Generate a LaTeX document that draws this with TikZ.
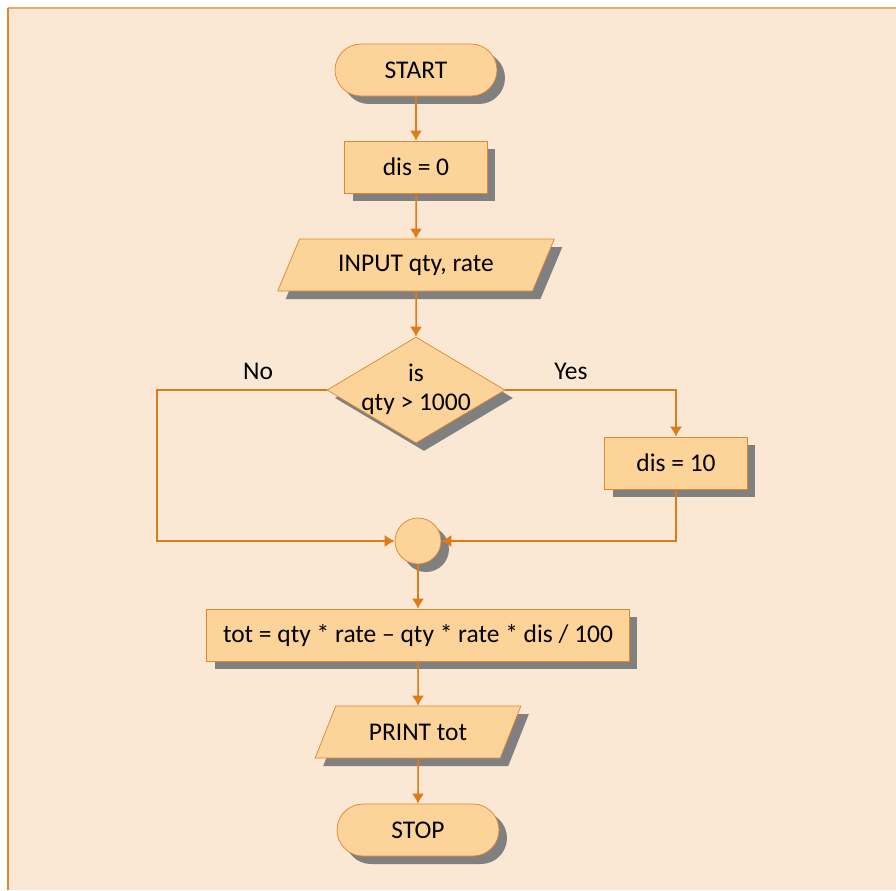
\documentclass[tikz,border=0pt]{standalone}
\usepackage{fontspec}
\setmainfont{Carlito}
\usetikzlibrary{shapes.geometric, arrows.meta, shadows}
\definecolor{pagebg}{HTML}{FAE8D5}
\definecolor{boxfill}{HTML}{FCD49A}
\definecolor{boxline}{HTML}{E0862C}
\definecolor{flowline}{HTML}{DF7A14}
\definecolor{shadowgray}{HTML}{808080}
\tikzstyle{fshadow} = [drop shadow={shadow xshift=0.16cm, shadow yshift=-0.16cm, fill=shadowgray, opacity=1}]
\tikzstyle{terminal} = [rectangle, rounded corners=0.52cm, minimum width=3.24cm, minimum height=1.04cm, text centered, draw=boxline, fill=boxfill, fshadow]
\tikzstyle{process} = [rectangle, minimum width=2.86cm, minimum height=1.04cm, text centered, draw=boxline, fill=boxfill, fshadow]
\tikzstyle{io} = [trapezium, trapezium left angle=64, trapezium right angle=116, trapezium stretches=true, minimum height=1.04cm, text centered, draw=boxline, fill=boxfill, fshadow]
\tikzstyle{decision} = [diamond, minimum width=3.56cm, minimum height=2.12cm, inner sep=0pt, draw=boxline, fill=boxfill, fshadow]
\tikzstyle{junction} = [circle, minimum size=0.92cm, inner sep=0pt, draw=boxline, fill=boxfill, fshadow]
\tikzstyle{flow} = [draw=flowline, line width=0.85pt]

\begin{document}
\begin{tikzpicture}[x=0.02cm, y=-0.02cm, font=\fontsize{14.5}{16.5}\selectfont, >={Latex[length=2mm,width=2.4mm]}]
    \useasboundingbox (0,0) rectangle (896,890);
    % page
    \fill[pagebg] (8,8) rectangle (896,890);
    \draw[boxline!70, line width=0.6pt] (8,8) -- (896,8);
    \draw[boxline, line width=1pt] (8,8) -- (8,890);

    \node at (416,70) [terminal] (start) {START};
    \node at (416,167) [process] (dis0) {dis = 0};
    \node at (416,265) [io, minimum width=5.54cm] (input) {INPUT qty, rate};
    \node at (416,390) [decision] (test) {};
    \node at (416,389) [align=center] (testtext) {is\\qty > 1000};
    \node at (676,463) [process] (dis10) {dis = 10};
    \node at (418,541) [junction] (join) {};
    \node at (418,635) [process, minimum width=8.46cm] (tot) {tot = qty * rate -- qty * rate * dis / 100};
    \node at (418,732) [io, minimum width=4.14cm] (print) {PRINT tot};
    \node at (418,830) [terminal] (stop) {STOP};

    \node at (258,371) (no) {No};
    \node at (571,371) (yes) {Yes};
    \coordinate (nocorner) at (157,390);

    \draw[flow,->] (start) -- (dis0);
    \draw[flow,->] (dis0) -- (input);
    \draw[flow,->] (input) -- (test);
    \draw[flow,->] (test.east) -| (dis10.north);
    \draw[flow,->] (dis10.south) |- (join.east);
    \draw[flow,->] (test.west) -- (nocorner) |- (join.west);
    \draw[flow,->] (join) -- (tot);
    \draw[flow,->] (tot) -- (print);
    \draw[flow,->] (print) -- (stop);

\end{tikzpicture}
\end{document}
